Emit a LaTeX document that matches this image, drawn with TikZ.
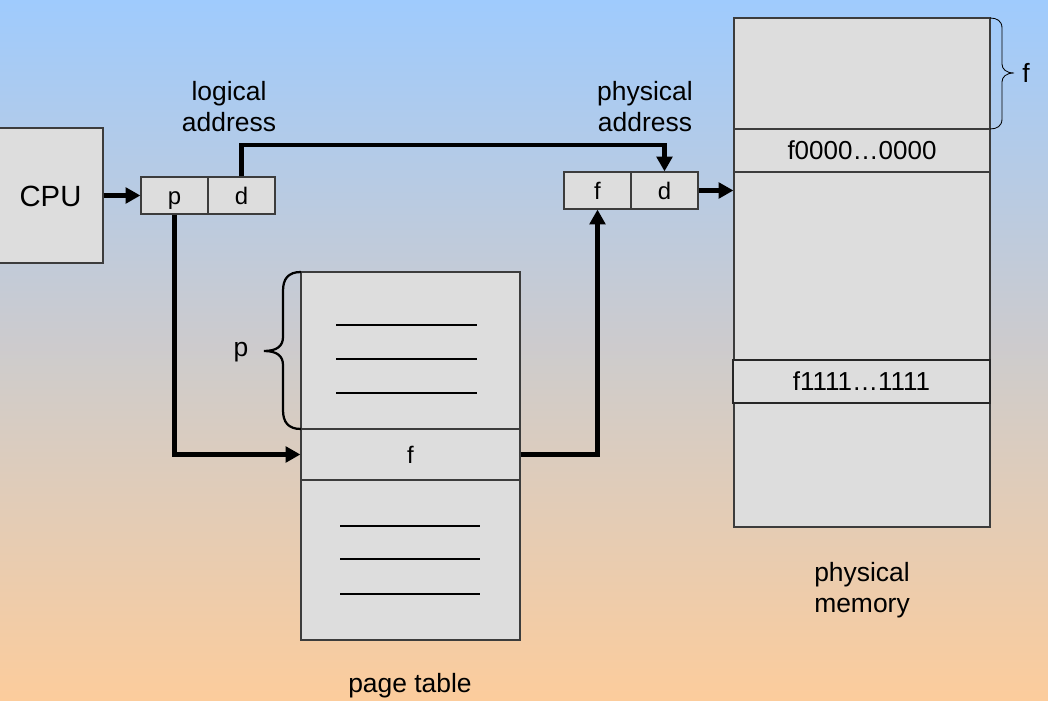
\documentclass[tikz,border=0pt]{standalone}
\usepackage{fontspec}
\setmainfont{Liberation Sans}
\usetikzlibrary{fit,arrows.meta}
\definecolor{bgtop}{RGB}{159,203,253}
\definecolor{bgmid}{RGB}{214,205,221}
\definecolor{bgbot}{RGB}{252,204,156}
\definecolor{boxfill}{RGB}{221,221,221}
\definecolor{boxline}{RGB}{60,60,60}
\tikzset{
  box/.style={draw=boxline, fill=boxfill, line width=0.8pt, inner sep=0pt},
  arr/.style={line width=3pt, -{Triangle[length=10.5pt,width=11pt]}},
  entry/.style={line width=1.5pt},
  lbl/.style={font=\fontsize{18.8}{22}\selectfont, align=center, inner sep=0pt},
  cell/.style={font=\fontsize{17}{20}\selectfont, inner sep=0pt, text height=12.2pt, text depth=0pt},
  addr/.style={font=\fontsize{18.5}{22}\selectfont, inner sep=0pt, text height=13.3pt, text depth=0pt},
  cpufont/.style={font=\fontsize{20.8}{24}\selectfont, inner sep=0pt, text height=15pt, text depth=0pt},
}
\begin{document}
\begin{tikzpicture}[x=0.025cm,y=-0.025cm]
\shade[top color=bgtop, middle color=bgmid, bottom color=bgbot] (0,0) rectangle (1048,701);
\useasboundingbox (0,0) rectangle (1048,701);

% CPU
\node[box, fit={(-2,128) (103,263)}, label={[cpufont]center:CPU}] (cpu) {};

% logical address
\node[box, fit={(141,177) (208,214)}, label={[cell]center:p}] (lp) {};
\node[box, fit={(208,177) (275,214)}, label={[cell]center:d}] (ld) {};

% physical address
\node[box, fit={(564,172) (631,209)}, label={[cell]center:f}] (pf) {};
\node[box, fit={(631,172) (698,209)}, label={[cell]center:d}] (pd) {};

% physical memory
\node[box, fit={(734,18) (990,527)}] (mem) {};
\node[box, fit={(734,129) (990,172)}, label={[addr]center:f0000…0000}] (m0) {};
\node[box, fit={(733,360) (990,403)}, draw=black!85, label={[addr]center:f1111…1111}] (m1) {};

% page table
\node[box, fit={(301,272) (520,640)}] (pt) {};
\node[box, fit={(301,429) (520,480)}, label={[cell]center:f}] (ptf) {};
\foreach \y in {325,359,393} \draw[entry] (336,\y) -- (477,\y);
\foreach \y in {526,559,594} \draw[entry] (340,\y) -- (480,\y);

% braces
\draw[line width=1.6pt] (301,272) .. controls (288,272) and (283,279) .. (283,291) -- (283,337)
  .. controls (283,346) and (277,351) .. (264,351)
  .. controls (277,351) and (283,356) .. (283,365) -- (283,410)
  .. controls (283,422) and (288,429) .. (301,429);
\draw[line width=0.6pt] (990,18) .. controls (997,18) and (1002,21) .. (1002,28) -- (1002,64)
  .. controls (1002,69) and (1006,73) .. (1014,73)
  .. controls (1006,73) and (1002,77) .. (1002,82) -- (1002,119)
  .. controls (1002,126) and (997,129) .. (990,129);

% labels
\node[lbl] (lal) at (229,107) {logical\\address};
\node[lbl] (pal) at (645,107) {physical\\address};
\node[lbl] (pml) at (862,590) {physical\\memory};
\node[lbl] (ptl) at (410,686) {page table};
\node[lbl] (pbr) at (241,352) {p};
\node[lbl] (fbr) at (1026,73) {f};

% connectors
\coordinate (topbend) at (450,145);
\draw[arr] (cpu) -- (lp);
\draw[arr] (ld.north) |- (topbend) -| (pd.north);
\draw[arr] (lp.south) |- (ptf.west);
\draw[arr] (ptf.east) -| (pf.south);
\draw[arr] (pd.east) -- (pd.east -| mem.west);
\end{tikzpicture}
\end{document}
